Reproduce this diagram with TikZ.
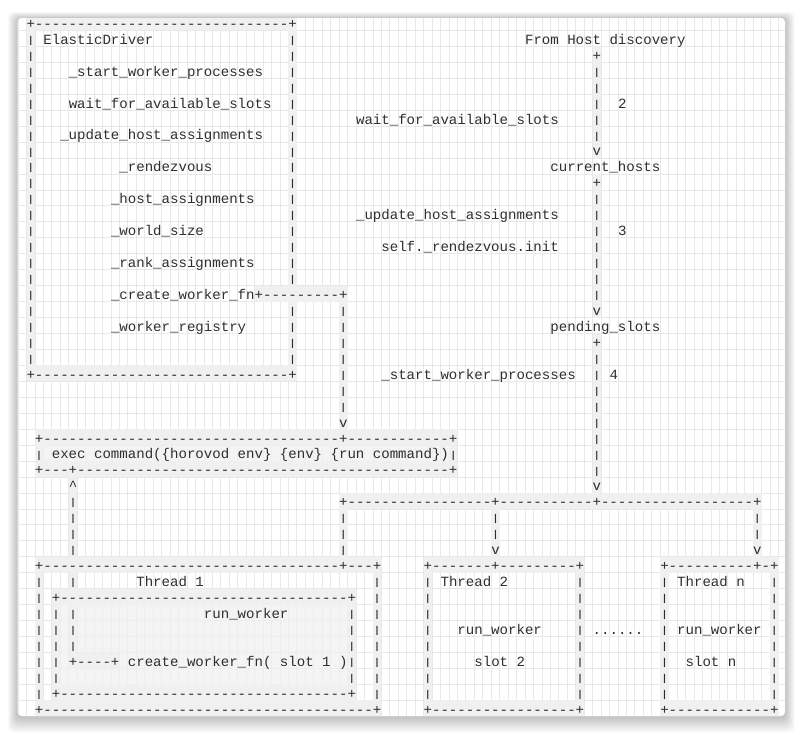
\documentclass[tikz,border=0pt]{standalone}
\usepackage{fontspec}
\setmonofont{Liberation Mono}
\usepackage{graphicx}
\usepackage{tikz}
\ExplSyntaxOn
\cs_new:Npn \myrep #1#2 { \prg_replicate:nn {#1} {#2} }
\ExplSyntaxOff
\definecolor{ink}{HTML}{2E2E2E}
\definecolor{bandc}{HTML}{F0F0F0}
\definecolor{gridc}{HTML}{E8E8E8}
\newcommand\Abar{\raisebox{0.9pt}{\scalebox{1}[0.7]{|}}}
% text placed on the character grid: name, column, row, text
\newcommand\ATxt[4]{\node[lbl] (#1) at ({26.5+8.45*(#2)},{28.3+15.95*(#3)}) {#4};}
% vertical run of bars: name, column, first row, last row
\newcommand\AVrun[4]{\foreach \r in {#3,...,#4}{\node[lbl] (#1-\r) at ({26.5+8.45*(#2)},{28.3+15.95*\r}) {\Abar};}}
% grey cell band: c1, r1, c2, r2
\newcommand\ABand[4]{\fill[bandc] ({26.5+8.45*(#1)},{14.5+15.95*(#2)}) rectangle ({26.5+8.45*(#3+1)},{14.5+15.95*(#4+1)});}
\newcommand\ABandSoft[4]{\fill[bandc, fill opacity=0.7] ({26.5+8.45*(#1)},{14.5+15.95*(#2)}) rectangle ({26.5+8.45*(#3+1)},{14.5+15.95*(#4+1)});}
\begin{document}
\begin{tikzpicture}[x=1pt,y=-1pt,
  lbl/.style={font=\ttfamily\fontsize{14.08pt}{16pt}\selectfont, inner sep=0pt, outer sep=0pt, anchor=base west, text=ink}]
\useasboundingbox (0,0) rectangle (803,734);
\fill[white] (0,0) rectangle (803,734);
% shadow
\foreach \i in {1,...,12}{
  \fill[black, opacity=0.018, rounded corners=6pt] ({17.5-0.8*\i},{18-0.6*\i+1}) rectangle ({785+0.8*\i},{716+1.3*\i+1});
}
\fill[white, rounded corners=4pt] (17.5,18) rectangle (785,716);
% grid
\begin{scope}
\clip[rounded corners=4pt] (17.5,18) rectangle (785,716);
\foreach \c in {-1,...,89}{\draw[gridc, line width=0.9pt] ({26.5+8.45*\c},18) -- ++(0,698);}
\foreach \k in {1,...,44}{\draw[gridc, line width=0.9pt] (17.5,{14.5+15.95*\k}) -- (785,{14.5+15.95*\k});}
% bands
\ABand{0}{0}{31}{0}\ABand{0}{22}{31}{22}\ABand{0}{0}{0}{22}\ABand{31}{0}{31}{22}
\ABand{27}{17}{37}{17}\ABand{37}{17}{37}{26}
\ABand{67}{2}{67}{8}\ABand{67}{10}{67}{18}\ABand{67}{20}{67}{30}
\ABand{1}{26}{50}{26}\ABand{1}{28}{50}{28}\ABand{1}{26}{1}{28}\ABand{50}{26}{50}{28}
\ABandSoft{2}{27}{49}{27}
\ABand{5}{28}{5}{36}
\ABand{37}{30}{86}{30}\ABand{37}{30}{37}{34}\ABand{55}{30}{55}{34}\ABand{86}{30}{86}{34}
\ABand{1}{34}{41}{34}\ABand{1}{43}{41}{43}\ABand{1}{34}{1}{43}\ABand{41}{34}{41}{43}
\ABand{3}{36}{38}{36}\ABand{3}{42}{38}{42}\ABand{3}{36}{3}{42}\ABand{38}{36}{38}{42}
\ABandSoft{4}{37}{37}{41}
\ABand{5}{37}{5}{40}\ABand{5}{40}{10}{40}
\ABand{47}{34}{65}{34}\ABand{47}{43}{65}{43}\ABand{47}{34}{47}{43}\ABand{65}{34}{65}{43}
\ABand{75}{34}{88}{34}\ABand{75}{43}{88}{43}\ABand{75}{34}{75}{43}\ABand{88}{34}{88}{43}
\end{scope}
% ElasticDriver box
\ATxt{edtop}{0}{0}{+\myrep{30}{-}+}
\AVrun{edl}{0}{1}{21}
\AVrun{edra}{31}{1}{16}
\AVrun{edrb}{31}{18}{21}
\ATxt{edbot}{0}{22}{+\myrep{30}{-}+}
\ATxt{ed}{2}{1}{ElasticDriver}
\ATxt{swp}{5}{3}{\_start\_worker\_processes}
\ATxt{wfas}{5}{5}{wait\_for\_available\_slots}
\ATxt{uha}{4}{7}{\_update\_host\_assignments}
\ATxt{rdv}{11}{9}{\_rendezvous}
\ATxt{ha}{10}{11}{\_host\_assignments}
\ATxt{ws}{10}{13}{\_world\_size}
\ATxt{ra}{10}{15}{\_rank\_assignments}
\ATxt{cwf}{10}{17}{\_create\_worker\_fn+\myrep{9}{-}+}
\ATxt{wr}{10}{19}{\_worker\_registry}
\AVrun{cv}{37}{18}{24}
\ATxt{cva}{37}{25}{v}
% right column
\ATxt{fhd}{59}{1}{From Host discovery}
\ATxt{p1}{67}{2}{+}
\AVrun{c1}{67}{3}{7}
\ATxt{a1}{67}{8}{v}
\ATxt{n2}{70}{5}{2}
\ATxt{wfas2}{39}{6}{wait\_for\_available\_slots}
\ATxt{ch}{62}{9}{current\_hosts}
\ATxt{p2}{67}{10}{+}
\AVrun{c2}{67}{11}{17}
\ATxt{a2}{67}{18}{v}
\ATxt{uha2}{39}{12}{\_update\_host\_assignments}
\ATxt{n3}{70}{13}{3}
\ATxt{sri}{42}{14}{self.\_rendezvous.init}
\ATxt{ps}{62}{19}{pending\_slots}
\ATxt{p3}{67}{20}{+}
\AVrun{c3}{67}{21}{28}
\ATxt{a3}{67}{29}{v}
\ATxt{swp2}{42}{22}{\_start\_worker\_processes}
\ATxt{n4}{69}{22}{4}
% exec box
\ATxt{ex1}{1}{26}{+\myrep{35}{-}+\myrep{12}{-}+}
\ATxt{exl}{1}{27}{\Abar}
\ATxt{ext}{3}{27}{exec command(\{horovod env\} \{env\} \{run command\})}
\ATxt{exr}{50}{27}{\Abar}
\ATxt{ex3}{1}{28}{+\myrep{3}{-}+\myrep{44}{-}+}
\ATxt{up}{5}{29}{\textasciicircum}
\AVrun{uv}{5}{30}{33}
% distribution line
\ATxt{dl}{37}{30}{+\myrep{17}{-}+\myrep{11}{-}+\myrep{18}{-}+}
\AVrun{d1}{37}{31}{33}
\AVrun{d2}{55}{31}{32}
\ATxt{d2a}{55}{33}{v}
\AVrun{d3}{86}{31}{32}
\ATxt{d3a}{86}{33}{v}
% Thread 1
\ATxt{t1top}{1}{34}{+\myrep{35}{-}+\myrep{3}{-}+}
\AVrun{t1l}{1}{35}{42}
\AVrun{t1r}{41}{35}{42}
\ATxt{t1bot}{1}{43}{+\myrep{39}{-}+}
\ATxt{t1v}{5}{35}{\Abar}
\ATxt{t1n}{13}{35}{Thread 1}
\ATxt{i1top}{3}{36}{+\myrep{34}{-}+}
\AVrun{i1l}{3}{37}{41}
\AVrun{i1r}{38}{37}{41}
\ATxt{i1bot}{3}{42}{+\myrep{34}{-}+}
\AVrun{lv}{5}{37}{39}
\ATxt{rw1}{21}{37}{run\_worker}
\ATxt{loop}{5}{40}{+\myrep{4}{-}+}
\ATxt{cwf1}{12}{40}{create\_worker\_fn( slot 1 )}
% Thread 2
\ATxt{t2top}{47}{34}{+\myrep{7}{-}+\myrep{9}{-}+}
\AVrun{t2l}{47}{35}{42}
\AVrun{t2r}{65}{35}{42}
\ATxt{t2bot}{47}{43}{+\myrep{17}{-}+}
\ATxt{t2n}{49}{35}{Thread 2}
\ATxt{rw2}{51}{38}{run\_worker}
\ATxt{s2}{53}{40}{slot 2}
\ATxt{dots}{67}{38}{......}
% Thread n
\ATxt{tntop}{75}{34}{+\myrep{10}{-}+-+}
\AVrun{tnl}{75}{35}{42}
\AVrun{tnr}{88}{35}{42}
\ATxt{tnbot}{75}{43}{+\myrep{12}{-}+}
\ATxt{tnn}{77}{35}{Thread n}
\ATxt{rwn}{77}{38}{run\_worker}
\ATxt{sn}{78}{40}{slot n}
\end{tikzpicture}
\end{document}
